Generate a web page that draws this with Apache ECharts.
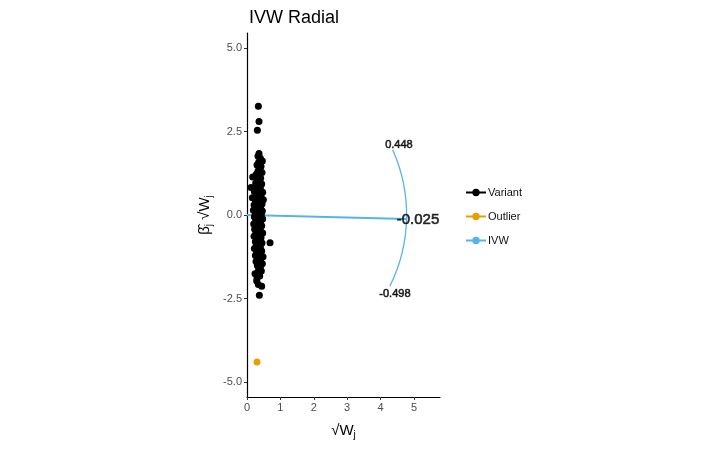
<!DOCTYPE html>
<html>
<head>
<meta charset="utf-8">
<script src="https://cdn.jsdelivr.net/npm/echarts@6/dist/echarts.min.js"></script>
<style>
  html, body { margin: 0; padding: 0; background: #fff; }
  #chart { width: 720px; height: 451px; }
</style>
</head>
<body>
<div id="chart"></div>
<script>
// variants: [sqrt(W_j), beta_j * sqrt(W_j)]
var variantPoints = [
  [0.34,3.26],[0.36,2.80],[0.31,2.54],
  [0.36,1.84],[0.33,1.76],[0.40,1.70],[0.46,1.62],[0.35,1.58],[0.30,1.50],[0.42,1.45],[0.38,1.38],
  [0.33,1.32],[0.45,1.27],[0.28,1.22],[0.17,1.14],[0.36,1.18],[0.41,1.10],[0.32,1.05],[0.38,1.00],
  [0.26,0.96],[0.44,0.93],[0.35,0.88],[0.12,0.82],[0.30,0.85],[0.40,0.79],[0.33,0.74],[0.22,0.70],
  [0.47,0.68],[0.36,0.64],[0.28,0.60],[0.42,0.56],[0.16,0.52],[0.49,0.46],[0.34,0.50],[0.25,0.44],
  [0.38,0.40],[0.30,0.36],[0.45,0.33],[0.21,0.30],
  [0.36,0.27],[0.27,0.24],[0.41,0.20],[0.32,0.17],[0.19,0.14],[0.46,0.12],[0.37,0.09],[0.25,0.06],
  [0.30,0.03],[0.43,0.01],[0.34,-0.02],[0.22,-0.05],[0.39,-0.07],[0.29,-0.10],[0.47,-0.12],[0.35,-0.15],
  [0.26,-0.18],[0.41,-0.21],[0.31,-0.24],[0.20,-0.27],[0.37,-0.29],
  [0.44,-0.32],[0.28,-0.35],[0.34,-0.39],[0.23,-0.43],[0.40,-0.46],[0.31,-0.50],[0.47,-0.54],[0.26,-0.57],
  [0.36,-0.61],[0.21,-0.64],[0.42,-0.68],[0.30,-0.72],[0.69,-0.83],[0.37,-0.76],[0.25,-0.80],[0.45,-0.84],
  [0.33,-0.88],[0.28,-0.93],[0.40,-0.97],[0.22,-1.00],
  [0.35,-1.04],[0.44,-1.08],[0.29,-1.12],[0.38,-1.17],[0.25,-1.21],[0.48,-1.25],[0.33,-1.30],[0.41,-1.34],
  [0.27,-1.39],[0.37,-1.43],[0.46,-1.46],[0.31,-1.51],[0.40,-1.56],[0.35,-1.62],[0.43,-1.68],[0.24,-1.76],
  [0.32,-1.72],[0.38,-1.83],[0.30,-1.90],[0.29,-1.98],[0.34,-2.08],[0.44,-2.13],[0.37,-2.40]
];
var outlierPoints = [[0.30,-4.40]];

// IVW fit line and radial scale
var ivwLine = [[0,0],[4.78,-0.12]];
var arcRadius = 4.78;
var arcSlopes = [0.448, -0.498];
var arcLabels = [
  [4.55, 2.10, '0.448', 11],
  [5.12, -0.15, '-0.025', 15],
  [4.43, -2.37, '-0.498', 11]
];

var xTicks = [0,1,2,3,4,5];
var yTicks = [-5,-2.5,0,2.5,5];

var FONT = '"Liberation Sans", Arial, sans-serif';
var C_VAR = '#000000', C_OUT = '#E69F00', C_IVW = '#56B4E9';

// line with a dot, like the ggplot key
var legendIcon = 'path://M0,4h20v2h-20z M6.3,5a3.7,3.7 0 1 1 7.4,0a3.7,3.7 0 1 1 -7.4,0z';

var chart = echarts.init(document.getElementById('chart'));
var option = {
  backgroundColor: '#fff',
  animation: false,
  title: {
    text: 'IVW Radial',
    left: 244, top: 4,
    textStyle: { fontFamily: FONT, fontSize: 18, fontWeight: 'normal', color: '#000' }
  },
  grid: { left: 247, right: 280, top: 33, bottom: 54 },
  legend: {
    orient: 'vertical',
    left: 461, top: 182,
    itemWidth: 20, itemHeight: 10, itemGap: 13,
    textStyle: { fontFamily: FONT, fontSize: 11, color: '#111', padding: [0,0,0,-3] },
    data: [
      { name: 'Variant', icon: legendIcon, itemStyle: { color: C_VAR } },
      { name: 'Outlier', icon: legendIcon, itemStyle: { color: C_OUT } },
      { name: 'IVW', icon: legendIcon, itemStyle: { color: C_IVW } }
    ]
  },
  xAxis: {
    type: 'value', min: 0, max: 5.78,
    name: '{r|√W}{s|j}',
    nameLocation: 'middle', nameGap: 25,
    nameTextStyle: {
      rich: {
        r: { fontFamily: FONT, fontSize: 15, color: '#000' },
        s: { fontFamily: FONT, fontSize: 10, color: '#000', verticalAlign: 'bottom', padding: [8,0,0,0] }
      }
    },
    axisLine: { onZero: false, lineStyle: { color: '#000', width: 1.2 } },
    axisTick: { show: true, length: 3, customValues: xTicks, lineStyle: { color: '#333' } },
    axisLabel: { customValues: xTicks, fontFamily: FONT, fontSize: 11, color: '#4d4d4d', margin: 5 },
    splitLine: { show: false }
  },
  yAxis: {
    type: 'value', min: -5.45, max: 5.45,
    name: '{r|β̂}{s|j}{r| √W}{s|j}',
    nameLocation: 'middle', nameGap: 33, nameRotate: 90,
    nameTextStyle: {
      rich: {
        r: { fontFamily: FONT, fontSize: 15, color: '#000' },
        s: { fontFamily: FONT, fontSize: 10, color: '#000', padding: [8,0,0,0] }
      }
    },
    axisLine: { onZero: false, lineStyle: { color: '#000', width: 1.2 } },
    axisTick: { show: true, length: 3, customValues: yTicks, lineStyle: { color: '#333' } },
    axisLabel: {
      customValues: yTicks, fontFamily: FONT, fontSize: 11, color: '#4d4d4d', margin: 5,
      formatter: function (v) { return v.toFixed(1); }
    },
    splitLine: { show: false }
  },
  series: [
    {
      name: 'IVW', type: 'line', data: ivwLine,
      symbol: 'none', z: 3,
      lineStyle: { color: C_IVW, width: 2 },
      itemStyle: { color: C_IVW }
    },
    {
      name: 'IVW', type: 'custom', z: 3, clip: false,
      data: [[0, 0]],
      renderItem: function (params, api) {
        var c = api.coord([0, 0]);
        var r = api.size([arcRadius, 0])[0];
        return {
          type: 'arc',
          shape: {
            cx: c[0], cy: c[1], r: r,
            startAngle: -Math.atan(arcSlopes[0]),
            endAngle: -Math.atan(arcSlopes[1]),
            clockwise: true
          },
          style: { stroke: C_IVW, fill: null, lineWidth: 1.3 }
        };
      }
    },
    {
      name: 'Variant', type: 'scatter', data: variantPoints,
      symbolSize: 7, z: 4,
      itemStyle: { color: C_VAR, opacity: 1 }
    },
    {
      name: 'Outlier', type: 'scatter', data: outlierPoints,
      symbolSize: 7, z: 4,
      itemStyle: { color: C_OUT, opacity: 1 }
    },
    {
      name: 'labels', type: 'scatter', z: 6,
      symbolSize: 0,
      data: arcLabels.map(function (d) {
        return {
          value: [d[0], d[1]],
          label: {
            show: true, position: 'inside', formatter: d[2],
            fontFamily: FONT, fontSize: d[3], color: '#000',
            textBorderColor: '#000', textBorderWidth: 0.6
          }
        };
      })
    }
  ]
};
chart.setOption(option);
</script>
</body>
</html>
